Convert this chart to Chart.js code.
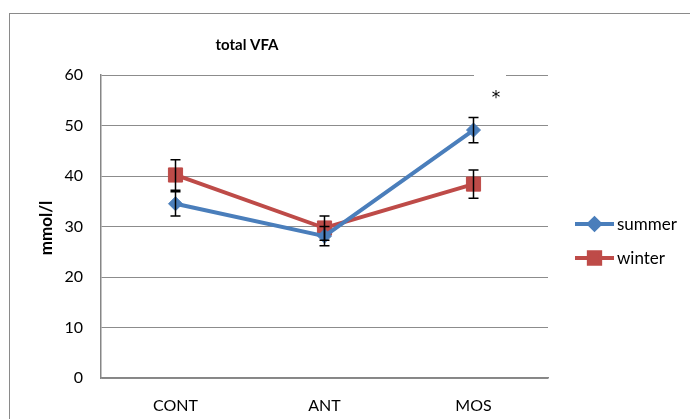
<!DOCTYPE html>
<html>
<head>
<meta charset="utf-8">
<script src="https://cdn.jsdelivr.net/npm/chart.js@4/dist/chart.umd.min.js"></script>
<style>
  html, body { margin: 0; padding: 0; background: #fff; }
  #wrap { width: 690px; height: 419px; position: relative; }
</style>
</head>
<body>
<div id="wrap"><canvas id="myChart" width="690" height="419"></canvas></div>
<script>
const labels = ["CONT", "ANT", "MOS"];
const summer = [34.5, 28.1, 49.1];
const summerErr = [2.4, 1.9, 2.5];
const winter = [40.2, 29.7, 38.4];
const winterErr = [3.0, 2.4, 2.8];
const yTicks = [0, 10, 20, 30, 40, 50, 60];

const BLUE = "#4a7ebb";
const RED = "#be4b48";
const FONT = "Lato, 'Open Sans', sans-serif";

const extras = {
  id: "extras",
  afterDatasetsDraw(chart) {
    const ctx = chart.ctx;
    const x = chart.scales.x;
    const y = chart.scales.y;
    ctx.save();
    // error bars
    ctx.strokeStyle = "#000";
    ctx.lineWidth = 1.5;
    const bars = [[summer, summerErr], [winter, winterErr]];
    bars.forEach(([vals, errs]) => {
      vals.forEach((v, i) => {
        const px = x.getPixelForValue(i);
        const top = y.getPixelForValue(v + errs[i]);
        const bot = y.getPixelForValue(v - errs[i]);
        ctx.beginPath();
        ctx.moveTo(px, top); ctx.lineTo(px, bot);
        ctx.moveTo(px - 5, top); ctx.lineTo(px + 5, top);
        ctx.moveTo(px - 5, bot); ctx.lineTo(px + 5, bot);
        ctx.stroke();
      });
    });
    // white patch over top gridline
    ctx.fillStyle = "#fff";
    ctx.fillRect(474, 73, 32, 5);
    // asterisk
    ctx.fillStyle = "#000";
    ctx.font = "17px 'DejaVu Sans', sans-serif";
    ctx.textAlign = "center";
    ctx.textBaseline = "middle";
    ctx.fillText("*", 496, 99);
    ctx.restore();
  },
  afterDraw(chart) {
    const ctx = chart.ctx;
    ctx.save();
    // outer border
    ctx.strokeStyle = "#8a8a8a";
    ctx.lineWidth = 1;
    ctx.strokeRect(9.5, 13.5, 800, 600);
    // title
    ctx.fillStyle = "#000";
    ctx.font = "bold 15px " + FONT;
    ctx.textAlign = "center";
    ctx.textBaseline = "middle";
    ctx.fillText("total VFA", 247, 45);
    // y title
    ctx.save();
    ctx.translate(47, 228);
    ctx.rotate(-Math.PI / 2);
    ctx.font = "bold 17px " + FONT;
    ctx.fillText("mmol/l", 0, 0);
    ctx.restore();
    // legend
    const items = [["summer", BLUE, "rectRot", 224], ["winter", RED, "rect", 258]];
    items.forEach(([name, col, shape, ly]) => {
      ctx.strokeStyle = col;
      ctx.fillStyle = col;
      ctx.lineWidth = 4;
      ctx.beginPath();
      ctx.moveTo(575, ly); ctx.lineTo(614, ly);
      ctx.stroke();
      Chart.helpers.drawPoint(ctx, { pointStyle: shape, radius: shape === "rect" ? 8 : 5.5, borderWidth: 1 }, 594.5, ly);
      ctx.fillStyle = "#000";
      ctx.font = "17px " + FONT;
      ctx.textAlign = "left";
      ctx.fillText(name, 617, ly + 1);
    });
    ctx.restore();
  }
};

new Chart(document.getElementById("myChart").getContext("2d"), {
  type: "line",
  data: {
    labels: labels,
    datasets: [
      {
        label: "summer",
        data: summer,
        borderColor: BLUE,
        backgroundColor: BLUE,
        borderWidth: 4,
        pointStyle: "rectRot",
        pointRadius: 7,
        pointBorderWidth: 1,
        tension: 0
      },
      {
        label: "winter",
        data: winter,
        borderColor: RED,
        backgroundColor: RED,
        borderWidth: 4,
        pointStyle: "rect",
        pointRadius: 10,
        pointBorderWidth: 1,
        tension: 0
      }
    ]
  },
  options: {
    responsive: false,
    animation: false,
    layout: { padding: { top: 75, right: 142, left: 0, bottom: 0 } },
    plugins: {
      legend: { display: false },
      tooltip: { enabled: false }
    },
    scales: {
      x: {
        offset: true,
        grid: { display: false, drawTicks: false },
        border: { color: "#868686", width: 1.5 },
        ticks: { color: "#000", font: { family: FONT, size: 16 }, padding: 18 },
        afterFit: (s) => { s.height = 41; }
      },
      y: {
        min: 0,
        max: 60,
        afterBuildTicks: (s) => { s.ticks = yTicks.map(v => ({ value: v })); },
        grid: { color: "#8c8c8c", lineWidth: 1, drawTicks: false },
        border: { color: "#868686", width: 1.5 },
        ticks: { color: "#000", font: { family: FONT, size: 16 }, padding: 18 },
        afterFit: (s) => { s.width = 101; }
      }
    }
  },
  plugins: [extras]
});
</script>
</body>
</html>
